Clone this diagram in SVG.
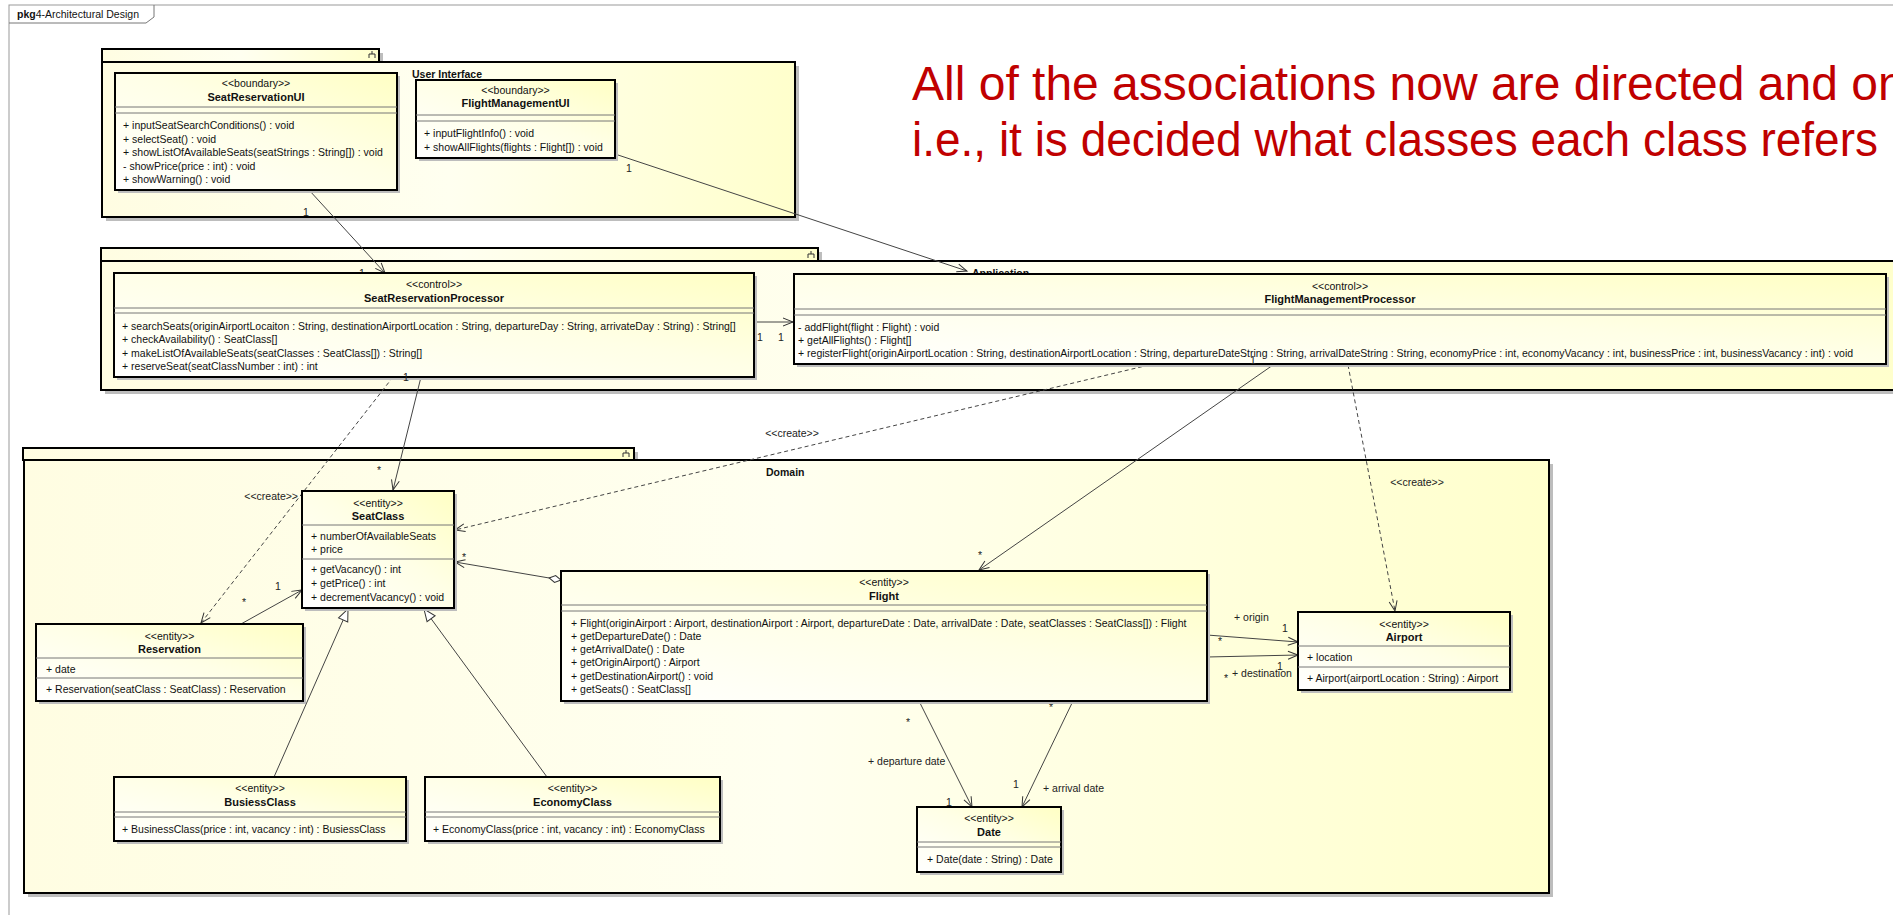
<svg xmlns="http://www.w3.org/2000/svg" width="1893" height="915" viewBox="0 0 1893 915">
  <style>
    text { font-family: "Liberation Sans", Arial, sans-serif; fill: #111; }
    .t { font-size: 10.5px; }
    .st { font-size: 10.5px; text-anchor: middle; }
    .nm { font-size: 11px; font-weight: bold; text-anchor: middle; }
    .pl { font-size: 10.5px; font-weight: bold; }
    .lb { font-size: 10.5px; fill: #222; }
    .box { stroke: #000; stroke-width: 2; fill: url(#clsFill); }
    .shadow { fill: #bdbdbd; }
    .pkg { stroke: #000; stroke-width: 2; fill: url(#pkgFill); }
    .div { stroke: #777; stroke-width: 1; }
    .ln { stroke: #444; stroke-width: 1; fill: none; }
    .dash { stroke: #444; stroke-width: 1; fill: none; stroke-dasharray: 4 3; }
    .icon { stroke: #333; stroke-width: 1; fill: none; }
    .note { font-size: 48px; fill: #C00000; }
  </style>
  <defs>
    <linearGradient id="pkgFill" x1="0" y1="0" x2="1" y2="0">
      <stop offset="0" stop-color="#FFFDE2"/>
      <stop offset="0.5" stop-color="#FFFFF0"/>
      <stop offset="1" stop-color="#FFFFCC"/>
    </linearGradient>
    <linearGradient id="clsFill" x1="0" y1="1" x2="1" y2="0">
      <stop offset="0" stop-color="#FFFFFF"/>
      <stop offset="0.55" stop-color="#FFFFE6"/>
      <stop offset="1" stop-color="#FFFFC4"/>
    </linearGradient>
    <marker id="open" viewBox="0 0 10 10" refX="10" refY="5" markerWidth="10" markerHeight="10" markerUnits="userSpaceOnUse" orient="auto" overflow="visible">
      <path d="M0,1 L10,5 L0,9" fill="none" stroke="#333" stroke-width="1"/>
    </marker>
    <marker id="gen" viewBox="0 0 12 12" refX="12" refY="6" markerWidth="12" markerHeight="12" markerUnits="userSpaceOnUse" orient="auto" overflow="visible">
      <path d="M0,1 L12,6 L0,11 Z" fill="#fff" stroke="#333" stroke-width="1"/>
    </marker>
    <marker id="agg" viewBox="0 0 12 8" refX="0" refY="4" markerWidth="12" markerHeight="8" markerUnits="userSpaceOnUse" orient="auto" overflow="visible">
      <path d="M0,4 L6,0.5 L12,4 L6,7.5 Z" fill="#fff" stroke="#333" stroke-width="1"/>
    </marker>
  </defs>

  <rect width="1893" height="915" fill="#fff"/>

  <!-- diagram frame -->
  <g id="frame">
    <rect x="9" y="5" width="1900" height="930" fill="none" stroke="#999" stroke-width="1"/>
    <path d="M9,23 H146 L154,17 V5" fill="none" stroke="#777" stroke-width="1"/>
    <text x="17" y="18" class="t"><tspan font-weight="bold">pkg</tspan>4-Architectural Design</text>
  </g>

  <!-- packages -->
  <g id="pkg-user-interface">
    <rect x="106" y="53" width="277" height="13" class="shadow"/>
    <rect x="106" y="66" width="693" height="155" class="shadow"/>
    <rect x="102" y="49" width="277" height="13" class="pkg"/>
    <rect x="102" y="62" width="693" height="155" class="pkg"/>
    <path d="M369,58 V54 H375 V58 M372,54 V51" class="icon"/>
    <text x="412" y="78" class="pl">User Interface</text>
  </g>
  <g id="pkg-application">
    <rect x="105" y="252" width="717" height="13" class="shadow"/>
    <rect x="105" y="265" width="1800" height="129" class="shadow"/>
    <rect x="101" y="248" width="717" height="13" class="pkg"/>
    <rect x="101" y="261" width="1800" height="129" class="pkg"/>
    <path d="M808,258 V254 H814 V258 M811,254 V251" class="icon"/>
    <text x="972" y="277" class="pl">Application</text>
  </g>
  <g id="pkg-domain">
    <rect x="27" y="452" width="611" height="12" class="shadow"/>
    <rect x="28" y="464" width="1525" height="433" class="shadow"/>
    <rect x="23" y="448" width="611" height="12" class="pkg"/>
    <rect x="24" y="460" width="1525" height="433" class="pkg"/>
    <path d="M623,457 V453 H629 V457 M626,453 V450" class="icon"/>
    <text x="766" y="476" class="pl">Domain</text>
  </g>

  <!-- connectors -->
  <g id="connectors">
    <line x1="309" y1="190" x2="385" y2="273" class="ln" marker-end="url(#open)"/>
    <text x="303" y="216" class="lb">1</text>
    <text x="359" y="277" class="lb">1</text>

    <line x1="615" y1="154" x2="967" y2="271" class="ln" marker-end="url(#open)"/>
    <text x="626" y="172" class="lb">1</text>

    <line x1="754" y1="322" x2="793" y2="322" class="ln" marker-end="url(#open)"/>
    <text x="757" y="341" class="lb">1</text>
    <text x="778" y="341" class="lb">1</text>

    <line x1="421" y1="377" x2="393" y2="490" class="ln" marker-end="url(#open)"/>
    <text x="377" y="474" class="lb">*</text>

    <line x1="393" y1="377" x2="201" y2="623" class="dash" marker-end="url(#open)"/>
    <text x="298" y="499.5" class="lb" text-anchor="end">&lt;&lt;create&gt;&gt;</text>

    <line x1="1149" y1="365" x2="455" y2="530" class="dash" stroke-dasharray="3 3" marker-end="url(#open)"/>
    <text x="792" y="436.5" class="lb" text-anchor="middle">&lt;&lt;create&gt;&gt;</text>

    <line x1="1273" y1="365" x2="979" y2="570" class="ln" marker-end="url(#open)"/>
    <text x="978" y="559" class="lb">*</text>

    <line x1="1348" y1="365" x2="1395" y2="611" class="dash" stroke-dasharray="6 4" marker-end="url(#open)"/>
    <text x="1417" y="485.5" class="lb" text-anchor="middle">&lt;&lt;create&gt;&gt;</text>

    <line x1="561" y1="580" x2="455" y2="562" class="ln" marker-start="url(#agg)" marker-end="url(#open)"/>
    <text x="462" y="561" class="lb">*</text>

    <line x1="241" y1="624" x2="302" y2="590" class="ln" marker-end="url(#open)"/>
    <text x="275" y="590" class="lb">1</text>
    <text x="242" y="606" class="lb">*</text>

    <line x1="274" y1="777" x2="348" y2="609" class="ln" marker-end="url(#gen)"/>
    <line x1="547" y1="777" x2="424" y2="609" class="ln" marker-end="url(#gen)"/>

    <line x1="1207" y1="635" x2="1298" y2="642" class="ln" marker-end="url(#open)"/>
    <text x="1234" y="620.5" class="lb">+ origin</text>
    <text x="1282" y="632" class="lb">1</text>
    <text x="1218" y="645" class="lb">*</text>

    <line x1="1207" y1="657" x2="1298" y2="655" class="ln" marker-end="url(#open)"/>
    <text x="1232" y="676.5" class="lb">+ destination</text>
    <text x="1224" y="682" class="lb">*</text>

    <line x1="919" y1="701" x2="972" y2="807" class="ln" marker-end="url(#open)"/>
    <text x="906" y="726" class="lb">*</text>
    <text x="868" y="764.5" class="lb">+ departure date</text>
    <text x="946" y="806" class="lb">1</text>

    <line x1="1073" y1="701" x2="1022" y2="807" class="ln" marker-end="url(#open)"/>
    <text x="1049" y="711" class="lb">*</text>
    <text x="1013" y="788" class="lb">1</text>
    <text x="1043" y="791.5" class="lb">+ arrival date</text>
  </g>

  <!-- classes -->
  <g id="SeatReservationUI">
    <rect x="118" y="76" width="282" height="117" class="shadow"/>
    <rect x="115" y="73" width="282" height="117" class="box"/>
    <text x="256" y="86.5" class="st">&lt;&lt;boundary&gt;&gt;</text>
    <text x="256" y="101" class="nm">SeatReservationUI</text>
    <line x1="115" y1="107" x2="397" y2="107" class="div"/>
    <line x1="115" y1="113" x2="397" y2="113" class="div"/>
    <text x="123" y="129" class="t">+ inputSeatSearchConditions() : void</text>
    <text x="123" y="142.5" class="t">+ selectSeat() : void</text>
    <text x="123" y="156" class="t">+ showListOfAvailableSeats(seatStrings : String[]) : void</text>
    <text x="123" y="169.5" class="t">- showPrice(price : int) : void</text>
    <text x="123" y="183" class="t">+ showWarning() : void</text>
  </g>

  <g id="FlightManagementUI">
    <rect x="419" y="83" width="199" height="78" class="shadow"/>
    <rect x="416" y="80" width="199" height="78" class="box"/>
    <text x="515.5" y="93.5" class="st">&lt;&lt;boundary&gt;&gt;</text>
    <text x="515.5" y="107" class="nm">FlightManagementUI</text>
    <line x1="416" y1="115" x2="615" y2="115" class="div"/>
    <line x1="416" y1="121" x2="615" y2="121" class="div"/>
    <text x="424" y="136.5" class="t">+ inputFlightInfo() : void</text>
    <text x="424" y="150.5" class="t">+ showAllFlights(flights : Flight[]) : void</text>
  </g>

  <g id="SeatReservationProcessor">
    <rect x="117" y="276" width="640" height="104" class="shadow"/>
    <rect x="114" y="273" width="640" height="104" class="box"/>
    <text x="434" y="287.5" class="st">&lt;&lt;control&gt;&gt;</text>
    <text x="434" y="302" class="nm">SeatReservationProcessor</text>
    <line x1="114" y1="308" x2="754" y2="308" class="div"/>
    <line x1="114" y1="313" x2="754" y2="313" class="div"/>
    <text x="122" y="329.5" class="t">+ searchSeats(originAirportLocaiton : String, destinationAirportLocation : String, departureDay : String, arrivateDay : String) : String[]</text>
    <text x="122" y="343" class="t">+ checkAvailability() : SeatClass[]</text>
    <text x="122" y="356.5" class="t">+ makeListOfAvailableSeats(seatClasses : SeatClass[]) : String[]</text>
    <text x="122" y="370" class="t">+ reserveSeat(seatClassNumber : int) : int</text>
  </g>

  <g id="FlightManagementProcessor">
    <rect x="797" y="277" width="1092" height="90" class="shadow"/>
    <rect x="794" y="274" width="1092" height="90" class="box"/>
    <text x="1340" y="289.5" class="st">&lt;&lt;control&gt;&gt;</text>
    <text x="1340" y="303" class="nm">FlightManagementProcessor</text>
    <line x1="794" y1="309" x2="1886" y2="309" class="div"/>
    <line x1="794" y1="315" x2="1886" y2="315" class="div"/>
    <text x="798" y="330.5" class="t">- addFlight(flight : Flight) : void</text>
    <text x="798" y="343.5" class="t">+ getAllFlights() : Flight[]</text>
    <text x="798" y="356.5" class="t">+ registerFlight(originAirportLocation : String, destinationAirportLocation : String, departureDateString : String, arrivalDateString : String, economyPrice : int, economyVacancy : int, businessPrice : int, businessVacancy : int) : void</text>
  </g>

  <g id="SeatClass">
    <rect x="305" y="494" width="152" height="117" class="shadow"/>
    <rect x="302" y="491" width="152" height="117" class="box"/>
    <text x="378" y="506.5" class="st">&lt;&lt;entity&gt;&gt;</text>
    <text x="378" y="520" class="nm">SeatClass</text>
    <line x1="302" y1="525" x2="454" y2="525" class="div"/>
    <text x="311" y="539.5" class="t">+ numberOfAvailableSeats</text>
    <text x="311" y="552.5" class="t">+ price</text>
    <line x1="302" y1="559" x2="454" y2="559" class="div"/>
    <text x="311" y="572.5" class="t">+ getVacancy() : int</text>
    <text x="311" y="586.5" class="t">+ getPrice() : int</text>
    <text x="311" y="600.5" class="t">+ decrementVacancy() : void</text>
  </g>

  <g id="Reservation">
    <rect x="39" y="627" width="267" height="77" class="shadow"/>
    <rect x="36" y="624" width="267" height="77" class="box"/>
    <text x="169.5" y="639.5" class="st">&lt;&lt;entity&gt;&gt;</text>
    <text x="169.5" y="653" class="nm">Reservation</text>
    <line x1="36" y1="658" x2="303" y2="658" class="div"/>
    <text x="46" y="672.5" class="t">+ date</text>
    <line x1="36" y1="678" x2="303" y2="678" class="div"/>
    <text x="46" y="692.5" class="t">+ Reservation(seatClass : SeatClass) : Reservation</text>
  </g>

  <g id="Flight">
    <rect x="564" y="574" width="646" height="130" class="shadow"/>
    <rect x="561" y="571" width="646" height="130" class="box"/>
    <text x="884" y="585.5" class="st">&lt;&lt;entity&gt;&gt;</text>
    <text x="884" y="600" class="nm">Flight</text>
    <line x1="561" y1="605" x2="1207" y2="605" class="div"/>
    <line x1="561" y1="611" x2="1207" y2="611" class="div"/>
    <text x="571" y="626.5" class="t">+ Flight(originAirport : Airport, destinationAirport : Airport, departureDate : Date, arrivalDate : Date, seatClasses : SeatClass[]) : Flight</text>
    <text x="571" y="639.8" class="t">+ getDepartureDate() : Date</text>
    <text x="571" y="653.1" class="t">+ getArrivalDate() : Date</text>
    <text x="571" y="666.4" class="t">+ getOriginAirport() : Airport</text>
    <text x="571" y="679.7" class="t">+ getDestinationAirport() : void</text>
    <text x="571" y="693" class="t">+ getSeats() : SeatClass[]</text>
  </g>

  <g id="Airport">
    <rect x="1301" y="615" width="212" height="78" class="shadow"/>
    <rect x="1298" y="612" width="212" height="78" class="box"/>
    <text x="1404" y="627.5" class="st">&lt;&lt;entity&gt;&gt;</text>
    <text x="1404" y="641" class="nm">Airport</text>
    <line x1="1298" y1="646" x2="1510" y2="646" class="div"/>
    <text x="1307" y="660.5" class="t">+ location</text>
    <line x1="1298" y1="667" x2="1510" y2="667" class="div"/>
    <text x="1307" y="681.5" class="t">+ Airport(airportLocation : String) : Airport</text>
  </g>

  <g id="BusiessClass">
    <rect x="117" y="780" width="292" height="64" class="shadow"/>
    <rect x="114" y="777" width="292" height="64" class="box"/>
    <text x="260" y="791.5" class="st">&lt;&lt;entity&gt;&gt;</text>
    <text x="260" y="806" class="nm">BusiessClass</text>
    <line x1="114" y1="812" x2="406" y2="812" class="div"/>
    <line x1="114" y1="817" x2="406" y2="817" class="div"/>
    <text x="122" y="832.5" class="t">+ BusinessClass(price : int, vacancy : int) : BusiessClass</text>
  </g>

  <g id="EconomyClass">
    <rect x="428" y="780" width="295" height="64" class="shadow"/>
    <rect x="425" y="777" width="295" height="64" class="box"/>
    <text x="572.5" y="791.5" class="st">&lt;&lt;entity&gt;&gt;</text>
    <text x="572.5" y="806" class="nm">EconomyClass</text>
    <line x1="425" y1="812" x2="720" y2="812" class="div"/>
    <line x1="425" y1="817" x2="720" y2="817" class="div"/>
    <text x="433" y="832.5" class="t">+ EconomyClass(price : int, vacancy : int) : EconomyClass</text>
  </g>

  <g id="Date">
    <rect x="920" y="810" width="144" height="65" class="shadow"/>
    <rect x="917" y="807" width="144" height="65" class="box"/>
    <text x="989" y="821.5" class="st">&lt;&lt;entity&gt;&gt;</text>
    <text x="989" y="836" class="nm">Date</text>
    <line x1="917" y1="842" x2="1061" y2="842" class="div"/>
    <line x1="917" y1="847" x2="1061" y2="847" class="div"/>
    <text x="927" y="862.5" class="t">+ Date(date : String) : Date</text>
  </g>

  <!-- labels drawn over the boxes -->
  <g id="overlay-labels">
    <text x="403" y="381" class="lb">1</text>
    <text x="1250" y="363.5" class="lb">1</text>
    <text x="1277" y="670" class="lb">1</text>
  </g>

  <!-- remark -->
  <g id="remark">
    <text x="912" y="100" class="note">All of the associations now are directed and on</text>
    <text x="912" y="156" class="note" textLength="966" lengthAdjust="spacingAndGlyphs">i.e., it is decided what classes each class refers</text>
  </g>
</svg>
